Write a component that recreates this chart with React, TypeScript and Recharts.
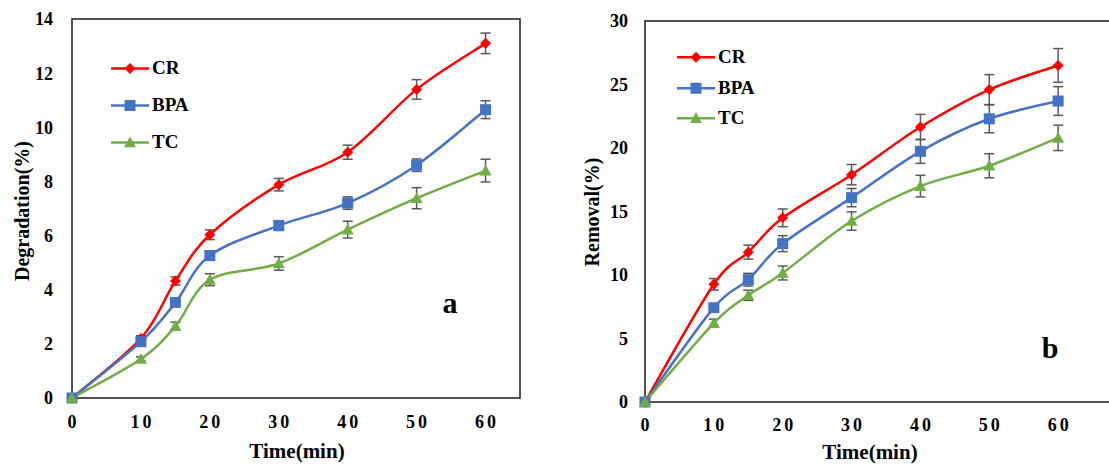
import React from "react";
import {
  LineChart,
  Line,
  XAxis,
  YAxis,
  ErrorBar,
  ReferenceArea,
  Legend,
} from "recharts";

// sampling times (min)
const times = [0, 10, 15, 20, 30, 40, 50, 60];
const xTicks = [0, 10, 20, 30, 40, 50, 60];

// panel a : degradation (%)
const degCR = [0, 2.2, 4.32, 6.03, 7.88, 9.08, 11.4, 13.1];
const degBPA = [0, 2.08, 3.53, 5.26, 6.37, 7.2, 8.6, 10.65];
const degTC = [0, 1.44, 2.65, 4.37, 4.97, 6.22, 7.38, 8.4];
const degCRErr = [0, 0.1, 0.15, 0.18, 0.23, 0.26, 0.36, 0.38];
const degBPAErr = [0, 0.1, 0.15, 0.17, 0.18, 0.23, 0.23, 0.33];
const degTCErr = [0, 0.08, 0.15, 0.22, 0.25, 0.31, 0.39, 0.42];
const degTicks = [0, 2, 4, 6, 8, 10, 12, 14];

// panel b : removal (%)
const remCR = [0, 9.27, 11.8, 14.5, 17.9, 21.65, 24.6, 26.5];
const remBPA = [0, 7.43, 9.63, 12.47, 16.09, 19.74, 22.3, 23.7];
const remTC = [0, 6.22, 8.4, 10.16, 14.25, 17.0, 18.6, 20.8];
const remCRErr = [0, 0.45, 0.55, 0.7, 0.8, 1.0, 1.18, 1.33];
const remBPAErr = [0, 0.3, 0.5, 0.63, 0.72, 0.95, 1.1, 1.13];
const remTCErr = [0, 0.3, 0.4, 0.55, 0.72, 0.85, 0.95, 1.0];
const remTicks = [0, 5, 10, 15, 20, 25, 30];

const FONT = '"Liberation Serif", "Times New Roman", serif';

type Shape = "diamond" | "square" | "triangle";
type SeriesDef = { key: string; name: string; color: string; shape: Shape };

const seriesDefs: SeriesDef[] = [
  { key: "cr", name: "CR", color: "#FF0000", shape: "diamond" },
  { key: "bpa", name: "BPA", color: "#4472C4", shape: "square" },
  { key: "tc", name: "TC", color: "#70AD47", shape: "triangle" },
];

const buildRows = (
  cr: number[],
  bpa: number[],
  tc: number[],
  crErr: number[],
  bpaErr: number[],
  tcErr: number[]
) =>
  times.map((t, i) => ({
    time: t,
    cr: cr[i],
    bpa: bpa[i],
    tc: tc[i],
    // no error bar drawn where the error is 0
    crErr: crErr[i] || null,
    bpaErr: bpaErr[i] || null,
    tcErr: tcErr[i] || null,
  }));

const degRows = buildRows(degCR, degBPA, degTC, degCRErr, degBPAErr, degTCErr);
const remRows = buildRows(remCR, remBPA, remTC, remCRErr, remBPAErr, remTCErr);

// Excel-like smoothed line (catmull-rom style bezier)
const smoothCurve = (context: any) => {
  let pts: [number, number][] = [];
  return {
    areaStart() {},
    areaEnd() {},
    lineStart() {
      pts = [];
    },
    point(x: number, y: number) {
      pts.push([+x, +y]);
    },
    lineEnd() {
      if (!pts.length) return;
      context.moveTo(pts[0][0], pts[0][1]);
      for (let i = 0; i < pts.length - 1; i++) {
        const p0 = pts[Math.max(i - 1, 0)];
        const p1 = pts[i];
        const p2 = pts[i + 1];
        const p3 = pts[Math.min(i + 2, pts.length - 1)];
        context.bezierCurveTo(
          p1[0] + (p2[0] - p0[0]) / 6,
          p1[1] + (p2[1] - p0[1]) / 6,
          p2[0] - (p3[0] - p1[0]) / 6,
          p2[1] - (p3[1] - p1[1]) / 6,
          p2[0],
          p2[1]
        );
      }
    },
  };
};

const Marker = ({
  cx,
  cy,
  shape,
  color,
}: {
  cx: number;
  cy: number;
  shape: Shape;
  color: string;
}) => {
  if (shape === "diamond") {
    const s = 5.5;
    return (
      <polygon
        points={`${cx},${cy - s} ${cx + s},${cy} ${cx},${cy + s} ${cx - s},${cy}`}
        fill={color}
      />
    );
  }
  if (shape === "square") {
    const s = 5.5;
    return <rect x={cx - s} y={cy - s} width={2 * s} height={2 * s} fill={color} />;
  }
  const s = 6;
  return (
    <polygon
      points={`${cx},${cy - s} ${cx + s},${cy + s * 0.8} ${cx - s},${cy + s * 0.8}`}
      fill={color}
    />
  );
};

// x tick labels are spaced out in the original
const XTick = (props: any) => {
  const { x, y, payload } = props;
  return (
    <text
      x={x + 1.5}
      y={y}
      dy="0.71em"
      textAnchor="middle"
      fill="#000"
      fontSize={18}
      fontWeight="bold"
      fontFamily={FONT}
      letterSpacing={3}
    >
      {payload.value}
    </text>
  );
};

const makeLegend = (rowH: number) => () =>
  (
    <div>
      {seriesDefs.map((s) => (
        <div
          key={s.key}
          style={{ display: "flex", alignItems: "center", height: rowH }}
        >
          <svg width={38} height={rowH}>
            <line
              x1={0}
              x2={38}
              y1={rowH / 2}
              y2={rowH / 2}
              stroke={s.color}
              strokeWidth={2.5}
            />
            <Marker cx={19} cy={rowH / 2} shape={s.shape} color={s.color} />
          </svg>
          <span
            style={{
              marginLeft: 3,
              fontFamily: FONT,
              fontWeight: "bold",
              fontSize: 19,
              color: "#000",
            }}
          >
            {s.name}
          </span>
        </div>
      ))}
    </div>
  );

type PanelProps = {
  rows: any[];
  left: number;
  width: number;
  plotLeft: number;
  plotTop: number;
  plotBottom: number;
  rightMargin: number;
  xMax: number;
  yMax: number;
  yTicks: number[];
  yTickGap: number;
  xTickGap: number;
  legendLeft: number;
  legendTop: number;
  legendRow: number;
};

const Panel: React.FC<PanelProps> = (p) => (
  <div style={{ position: "absolute", left: p.left, top: 0 }}>
    <LineChart
      width={p.width}
      height={464}
      data={p.rows}
      margin={{ top: p.plotTop, right: p.rightMargin, bottom: 0, left: 0 }}
    >
      <XAxis
        dataKey="time"
        type="number"
        domain={[0, p.xMax]}
        ticks={xTicks}
        interval={0}
        height={464 - p.plotBottom}
        axisLine={false}
        tickLine={false}
        tickSize={0}
        tickMargin={p.xTickGap}
        tick={<XTick />}
      />
      <YAxis
        type="number"
        domain={[0, p.yMax]}
        ticks={p.yTicks}
        interval={0}
        width={p.plotLeft}
        axisLine={false}
        tickLine={false}
        tickSize={0}
        tickMargin={p.yTickGap}
        tick={{ fill: "#000", fontSize: 18, fontWeight: "bold", fontFamily: FONT }}
      />
      <ReferenceArea
        x1={0}
        x2={p.xMax}
        y1={0}
        y2={p.yMax}
        fill="none"
        fillOpacity={0}
        stroke="#1a1a1a"
        strokeWidth={1.5}
      />
      <Legend
        layout="vertical"
        align="center"
        verticalAlign="middle"
        content={makeLegend(p.legendRow)}
        wrapperStyle={{ left: p.legendLeft, top: p.legendTop, width: "auto" }}
      />
      {seriesDefs.map((s) => (
        <Line
          key={s.key}
          type={smoothCurve as any}
          dataKey={s.key}
          name={s.name}
          stroke={s.color}
          strokeWidth={2.5}
          isAnimationActive={false}
          dot={(d: any) => (
            <Marker
              key={`${s.key}-${d.index}`}
              cx={d.cx}
              cy={d.cy}
              shape={s.shape}
              color={s.color}
            />
          )}
          activeDot={false}
        >
          <ErrorBar
            dataKey={`${s.key}Err`}
            direction="y"
            width={5}
            stroke="#595959"
            strokeWidth={1.5}
            isAnimationActive={false}
          />
        </Line>
      ))}
    </LineChart>
  </div>
);

const overlayText: React.CSSProperties = {
  position: "absolute",
  fontFamily: FONT,
  fontWeight: "bold",
  color: "#000",
  whiteSpace: "nowrap",
  transform: "translate(-50%, -50%)",
};

export default function App() {
  return (
    <div
      style={{
        position: "absolute",
        left: 0,
        top: 0,
        width: 1109,
        height: 464,
        overflow: "hidden",
        background: "#fff",
      }}
    >
      <Panel
        rows={degRows}
        left={0}
        width={540}
        plotLeft={72}
        plotTop={19}
        plotBottom={398}
        rightMargin={20}
        xMax={65}
        yMax={14}
        yTicks={degTicks}
        yTickGap={19}
        xTickGap={17}
        legendLeft={111}
        legendTop={49.5}
        legendRow={37}
      />
      <Panel
        rows={remRows}
        left={560}
        width={600}
        plotLeft={85}
        plotTop={21}
        plotBottom={402}
        rightMargin={33}
        xMax={70}
        yMax={30}
        yTicks={remTicks}
        yTickGap={17}
        xTickGap={16}
        legendLeft={117}
        legendTop={42}
        legendRow={30.5}
      />

      {/* axis titles and panel letters */}
      <div style={{ ...overlayText, left: 22, top: 211, fontSize: 20, transform: "translate(-50%, -50%) rotate(-90deg)" }}>
        Degradation(%)
      </div>
      <div style={{ ...overlayText, left: 297, top: 451, fontSize: 21 }}>Time(min)</div>
      <div style={{ ...overlayText, left: 450, top: 303, fontSize: 30 }}>a</div>

      <div style={{ ...overlayText, left: 592, top: 212, fontSize: 20, transform: "translate(-50%, -50%) rotate(-90deg)" }}>
        Removal(%)
      </div>
      <div style={{ ...overlayText, left: 870, top: 452, fontSize: 21 }}>Time(min)</div>
      <div style={{ ...overlayText, left: 1050, top: 348, fontSize: 30 }}>b</div>
    </div>
  );
}
